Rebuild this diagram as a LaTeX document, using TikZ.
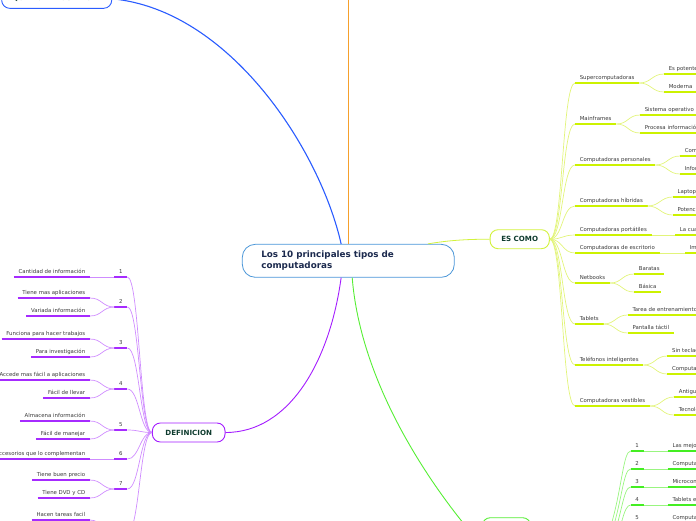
\documentclass[tikz,border=0pt]{standalone}
\usepackage{fontspec}
\setmainfont{DejaVu Sans}
\usetikzlibrary{positioning}

\definecolor{rootline}{HTML}{4A96D8}
\definecolor{roottext}{HTML}{1C2A4E}
\definecolor{topictext}{HTML}{0E3B2E}
\definecolor{leafgray}{HTML}{3A3A3A}
\definecolor{blueline}{HTML}{2A5CFF}
\definecolor{orangeline}{HTML}{F6A02C}
\definecolor{purpleline}{HTML}{A31CFF}
\definecolor{purplebar}{HTML}{A62BFF}
\definecolor{purplethin}{HTML}{CF8CFF}
\definecolor{greenline}{HTML}{55EE33}
\definecolor{greenbar}{HTML}{44EE22}
\definecolor{greenthin}{HTML}{99F580}
\definecolor{limeline}{HTML}{D2F23C}
\definecolor{limebar}{HTML}{CCF200}
\definecolor{limethin}{HTML}{E2F47A}

\newcommand{\leaffont}{\fontsize{5.4}{6.5}\selectfont}

\begin{document}
\begin{tikzpicture}[x=1pt, y=-1pt,
    root/.style={draw=rootline, line width=0.8pt, rounded corners=13pt, fill=white,
      minimum height=33pt, text width=174pt, inner xsep=19pt, align=left,
      font=\bfseries\fontsize{8.8}{11}\selectfont, text=roottext},
    topic/.style={draw=#1, line width=0.9pt, rounded corners=8pt, fill=white,
      minimum height=19pt, inner xsep=0pt, font=\bfseries\fontsize{7.1}{8.5}\selectfont, text=topictext},
    leaf/.style={font=\leaffont, text=leafgray, inner xsep=4.6pt, inner ysep=2.4pt,
      text height=4pt, text depth=1.4pt},
    num/.style={leaf, minimum width=12.7pt, inner xsep=0pt},
    underbar/.style={draw=#1, line width=1.6pt},
    bough/.style={to path={.. controls +(#1,0) and +(-#1,0) .. (\tikztotarget)}},
  ]
  \useasboundingbox (0,0) rectangle (696,520);
  \clip (0,0) rectangle (696,520);

  % main topics
  \node[root] (root) at (348.3,260.8) {Los 10 principales tipos de\\computadoras};
  \node[topic=blueline, minimum width=110pt] (hacer) at (56.7,-1.2) {QUE PODEMOS HACER};
  \node[topic=purpleline, minimum width=72.7pt] (defin) at (188.7,432.5) {DEFINICION};
  \node[topic=limeline, minimum width=59.3pt] (escomo) at (519.7,239.2) {ES COMO};
  \node[topic=greenline, minimum width=48.4pt, minimum height=164.6pt] (verde) at (506.5,600) {};
  \coordinate (naranja) at (348.3,-30);

  \draw[blueline, line width=1.1pt] (hacer.east) .. controls (230,10) and (320,150) .. (root.113);
  \draw[orangeline, line width=1.5pt] (naranja) -- (root.north);
  \draw[purpleline, line width=0.9pt] (root.247) .. controls (330,360) and (290,432.5) .. (defin.east);
  \draw[greenline, line width=0.9pt] (root.283) .. controls (362,400) and (452,512) .. ([yshift=55pt]verde.west);
  \draw[limeline, line width=0.8pt] (root.12) .. controls (450,240) and (470,239.2) .. (escomo.west);

  % ES COMO
  \foreach \name/\y/\txt in {sup/83/Supercomputadoras, mai/124/Mainframes,
      per/165/Computadoras personales, hib/206/Computadoras híbridas,
      por/235/Computadoras portátiles, esc/253/Computadoras de escritorio,
      net/283/Netbooks, tab/324/Tablets, tel/365/Teléfonos inteligentes,
      ves/406/Computadoras vestibles}{
    \node[leaf, anchor=south west] (\name) at (575,\y) {\txt};
    \draw[limethin, line width=0.7pt, bough=13] (escomo.east) to (\name.south west);
    \draw[underbar=limebar] (\name.south west) -- (\name.south east);
  }
  \foreach \from/\name/\x/\y/\txt in {sup/pot/664/74/Es potente, sup/mod/664/92/Moderna,
      mai/sis/640/115/Sistema operativo, mai/pro/640/133/Procesa información,
      per/com/680/156/Comunes, per/inf/680/174/Información,
      hib/lap/672.7/197/Laptop y tablet, hib/pote/672.7/215/Potencia,
      por/cual/675/235/La cual se lleva, esc/imp/685/253/Impresora,
      net/barat/634/274/Baratas, net/basic/634/292/Básica,
      tab/tar/627.7/315/Tarea de entrenamiento, tab/pan/627.7/333/Pantalla táctil,
      tel/sin/667.3/356/Sin teclado, tel/bol/667.3/374/Computadora de bolsillo,
      ves/ant/674/397/Antiguas, ves/tec/674/415/Tecnología}{
    \node[leaf, anchor=south west] (\name) at (\x,\y) {\txt};
    \draw[limethin, line width=0.7pt, bough=12] (\from.south east) to (\name.south west);
    \draw[underbar=limebar] (\name.south west) -- (\name.south east);
  }

  % DEFINICION
  \foreach \n/\y in {1/277, 2/307, 3/348, 4/389, 5/430, 6/459, 7/489, 8/533}{
    \node[num, anchor=south west] (d\n) at (114.3,\y) {\n};
    \draw[purplethin, line width=0.7pt, bough=-12] (defin.west) to (d\n.south east);
    \draw[underbar=purplebar] (d\n.south west) -- (d\n.south east);
  }
  \foreach \from/\name/\y/\txt in {d1/can/277/Cantidad de información,
      d2/apl/298/Tiene mas aplicaciones, d2/var/316/Variada información,
      d3/fun/339/Funciona para hacer trabajos, d3/inv/357/Para investigación,
      d4/acc/380/Accede mas fácil a aplicaciones, d4/lle/398/Fácil de llevar,
      d5/alm/421/Almacena información, d5/man/439/Fácil de manejar,
      d6/aco/459/Accesorios que lo complementan,
      d7/pre/480/Tiene buen precio, d7/dvd/498/Tiene DVD y CD,
      d8/fac/520/Hacen tareas facil}{
    \node[leaf, anchor=south east] (\name) at (90,\y) {\txt};
    \draw[purplethin, line width=0.7pt, bough=-12] (\from.south west) to (\name.south east);
    \draw[underbar=purplebar] (\name.south west) -- (\name.south east);
  }

  % green branch
  \foreach \n/\y/\txt in {1/451/Las mejores, 2/469/Computadoras cuánticas,
      3/487/Microcontroladores, 4/505/Tablets electrónicas, 5/523/Computadoras de mano}{
    \node[num, anchor=south west, minimum width=12.6pt] (g\n) at (630.7,\y) {\n};
    \node[leaf, anchor=south west] (h\n) at (667.7,\y) {\txt};
    \draw[greenthin, line width=0.7pt] (verde.east) .. controls +(95,0) and +(-15,0) .. (g\n.south west);
    \draw[greenthin, line width=0.6pt] (g\n.south east) -- (h\n.south west);
    \draw[underbar=greenbar] (g\n.south west) -- (g\n.south east);
    \draw[underbar=greenbar] (h\n.south west) -- (h\n.south east);
  }
\end{tikzpicture}
\end{document}
